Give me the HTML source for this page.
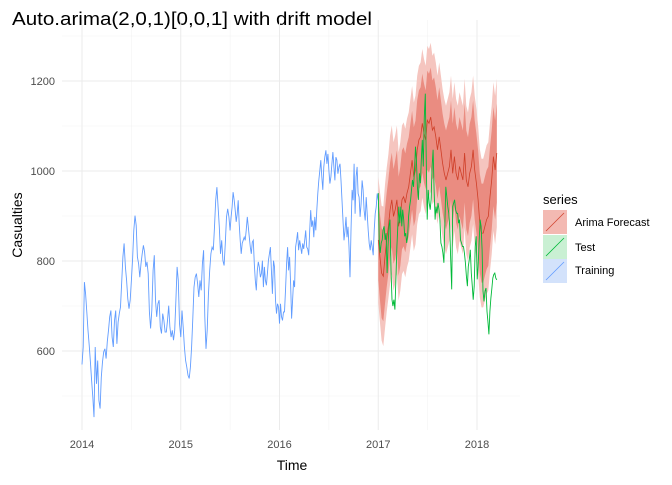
<!DOCTYPE html>
<html><head><meta charset="utf-8"><style>
body{margin:0;background:#fff;font-family:"Liberation Sans",sans-serif;}
svg text{font-family:"Liberation Sans",sans-serif;}
</style></head><body>
<svg id="chart" width="672" height="480" xmlns="http://www.w3.org/2000/svg">
<text x="12" y="25" font-size="18.5" textLength="360" lengthAdjust="spacingAndGlyphs" fill="#000">Auto.arima(2,0,1)[0,0,1] with drift model</text>
<g id="grid"></g>
<g id="bands"></g>
<g id="lines"></g>
<g id="axes"></g>
<text x="292" y="470" font-size="14" text-anchor="middle" fill="#000">Time</text>
<text transform="translate(22,225) rotate(-90)" font-size="14" text-anchor="middle" fill="#000">Casualties</text>
<g>
<text x="543" y="204" font-size="13">series</text>
<g>
<rect x="543" y="210" width="24" height="24" fill="#f3b9b2"/><line x1="546" y1="231" x2="564" y2="213" stroke="#d1452f" stroke-width="0.8"/>
<text x="575" y="226" font-size="11" fill="#000">Arima Forecast</text></g>
<g>
<rect x="543" y="235" width="24" height="24" fill="#c9f0d3"/><line x1="546" y1="256" x2="564" y2="238" stroke="#00BA38" stroke-width="0.8"/>
<text x="575" y="251" font-size="11" fill="#000">Test</text></g>
<g>
<rect x="543" y="259" width="24" height="24" fill="#d3e2fb"/><line x1="546" y1="280" x2="564" y2="262" stroke="#619CFF" stroke-width="0.8"/>
<text x="575" y="274" font-size="11" fill="#000">Training</text></g>
</g>
</svg>
<script>
const yTicks=[600,800,1000,1200];
const yMinor=[500,700,900,1100,1300];
const xTicks=[2014,2015,2016,2017,2018];
const xMinor=[2014.5,2015.5,2016.5,2017.5];
const trainA=[570,609,753,727,687,646,613,576,535,498,453,609,527,579,490,472,542,576,598,605,583,621,646,676,690,631,609,668,690,616,664,683,698,753,809,839,787,757,716,694,713,757,805,868,901,879,809,794,764,794,816,835,820,787,798,772,687,650,690,779,813,713,676,705,713,653,639,683,668,642,642,668,701,653,631,646,624,646,713,787,757,661,631,690,653,609,579,564,546,539,564,609,672,742,764,772,750,720,757,735,794,824,676,605,646,724,779,816,831,824,876,935,964,920,876,816,846,801,790,839,898,916,898,868];
const trainB=[868,898,920,953,935,913,887,905,935,883,846,816,839,846,853,846,868,898,876,853,831,816,842,846,794,757,735,779,798,787,764,772,801,742,787,757,746,772,801,816,831,779,727,801,787,713,683,705,698,661,705,676,668,687,687,735,794,831,779,809,750,672,713,757,742,831,846,864,824,846,831,816,839,827,846,868,831,827,813,868,913,876,890,853,898,868,913,950,979,1001,1024,987,958,1009,1031,1046,1016,1038,1001,972,987,1016,1042,1009,979,1031,1024,994,1009,1016,979,935,890,846,868,898,853,876,831,764,868,958,935,1016,905,987,1009,950,942,898,927,979,958,913,890,942,905,868,839,824,846,831,813,868,905,920,950,935];
const testVals=[951,847,818,840,847,869,877,847,862,773,832,877,892,781,714,700,714,692,759,832,877,921,884,921,877,914,892,855,862,840,855,899,921,936,958,980,965,1002,1054,1024,965,936,995,973,1024,1069,1010,1120,1172,1032,892,958,929,914,936,1010,1047,958,892,921,906,929,914,892,840,832,818,796,877,965,943,921,906,877,803,737,921,929,936,914,906,906,884,892,847,840,832,832,818,796,766,744,788,803,825,773,744,714,744,832,855,759,788,840,892,877,825,733,710,733,740,688,666,637,688,718,740,762,770,773,762,758];
const fcVals=[847,810,773,766,810,847,877,914,936,899,914,936,877,899,936,943,929,951,965,995,1024,987,1002,1047,1069,1076,1106,1084,1069,1113,1106,1120,1091,1098,1076,1047,1076,1047,1017,995,980,995,1010,1047,995,1032,995,980,1010,995,980,1040,980,965,995,1010,1047,1002,973,936,884,862,862,877,892,899,943,980,1032,1002,1040];
const pi80=[90,95,100,100,105,105,105,105,105,105,110,110,110,110,110,110,110,110,110,110,110,110,110,110,110,110,110,110,110,110,110,110,110,110,110,110,110,110,110,110,110,110,110,110,110,110,110,110,110,110,110,110,110,110,110,110,110,110,110,110,110,110,110,110,110,110,110,110,110,110,110];
const pi95=[140,145,150,155,160,160,160,165,165,165,165,165,165,165,165,165,165,165,165,165,165,165,165,165,165,165,165,165,165,165,165,165,165,165,165,165,165,165,165,165,165,165,165,165,165,165,165,165,165,165,165,165,165,165,165,165,165,165,165,165,165,165,165,165,165,165,165,165,165,165,165];
const tStart=2014,tMid=2015.5,tTrainEnd=2017,tTestEnd=2018.2;
const X=t=>82+(t-2014)*98.75;
const Y=v=>171-(v-1000)*0.45;
const NS="http://www.w3.org/2000/svg";
function mk(tag,attrs,parent){const e=document.createElementNS(NS,tag);for(const k in attrs)e.setAttribute(k,attrs[k]);parent.appendChild(e);return e;}
const grid=document.getElementById('grid'),axes=document.getElementById('axes'),bands=document.getElementById('bands'),lines=document.getElementById('lines');
const L=62,R=520,T=20,B=430;
yMinor.forEach(v=>{const l=mk('line',{x1:L,x2:R,y1:Y(v),y2:Y(v),stroke:'#f3f3f3','stroke-width':0.6},grid);});
xMinor.forEach(t=>{const l=mk('line',{x1:X(t),x2:X(t),y1:T,y2:B,stroke:'#f3f3f3','stroke-width':0.6},grid);});
yTicks.forEach(v=>{const l=mk('line',{x1:L,x2:R,y1:Y(v),y2:Y(v),stroke:'#ebebeb','stroke-width':1},grid);
const t=mk('text',{x:55,y:Y(v)+4,'font-size':11,'text-anchor':'end',fill:'#4d4d4d'},axes);t.textContent=v;});
xTicks.forEach(v=>{const l=mk('line',{x1:X(v),x2:X(v),y1:T,y2:B,stroke:'#ebebeb','stroke-width':1},grid);
const t=mk('text',{x:X(v),y:448,'font-size':11,'text-anchor':'middle',fill:'#4d4d4d'},axes);t.textContent=v;});
function times(n,a,b){const r=[];for(let i=0;i<n;i++)r.push(a+(b-a)*i/(n-1));return r;}
function pts(ts,vs){return vs.map((v,i)=>X(ts[i]).toFixed(1)+','+Y(v).toFixed(1)).join(' ');}
function band(ts,lo,hi,fill,name){const up=ts.map((t,i)=>X(t).toFixed(1)+','+Y(hi[i]).toFixed(1));const dn=ts.map((t,i)=>X(t).toFixed(1)+','+Y(lo[i]).toFixed(1)).reverse();
const p=mk('polygon',{points:up.concat(dn).join(' '),fill:fill},bands);}
const fT=times(fcVals.length,tTrainEnd,tTestEnd);
band(fT,fcVals.map((v,i)=>v-pi95[i]),fcVals.map((v,i)=>v+pi95[i]),'#f5c5bf','band-95');
band(fT,fcVals.map((v,i)=>v-pi80[i]),fcVals.map((v,i)=>v+pi80[i]),'#ea8c81','band-80');
const trA=mk('polyline',{points:pts(times(trainA.length,tStart,tMid),trainA),fill:'none',stroke:'#619CFF','stroke-width':0.9},lines);

const trB=mk('polyline',{points:pts(times(trainB.length,tMid,tTrainEnd),trainB),fill:'none',stroke:'#619CFF','stroke-width':0.9},lines);

const fl=mk('polyline',{points:pts(fT,fcVals),fill:'none',stroke:'#cf3f28','stroke-width':0.8},lines);

const tl=mk('polyline',{points:pts(times(testVals.length,tTrainEnd,tTestEnd),testVals),fill:'none',stroke:'#00BA38','stroke-width':0.9},lines);

</script>
</body></html>
